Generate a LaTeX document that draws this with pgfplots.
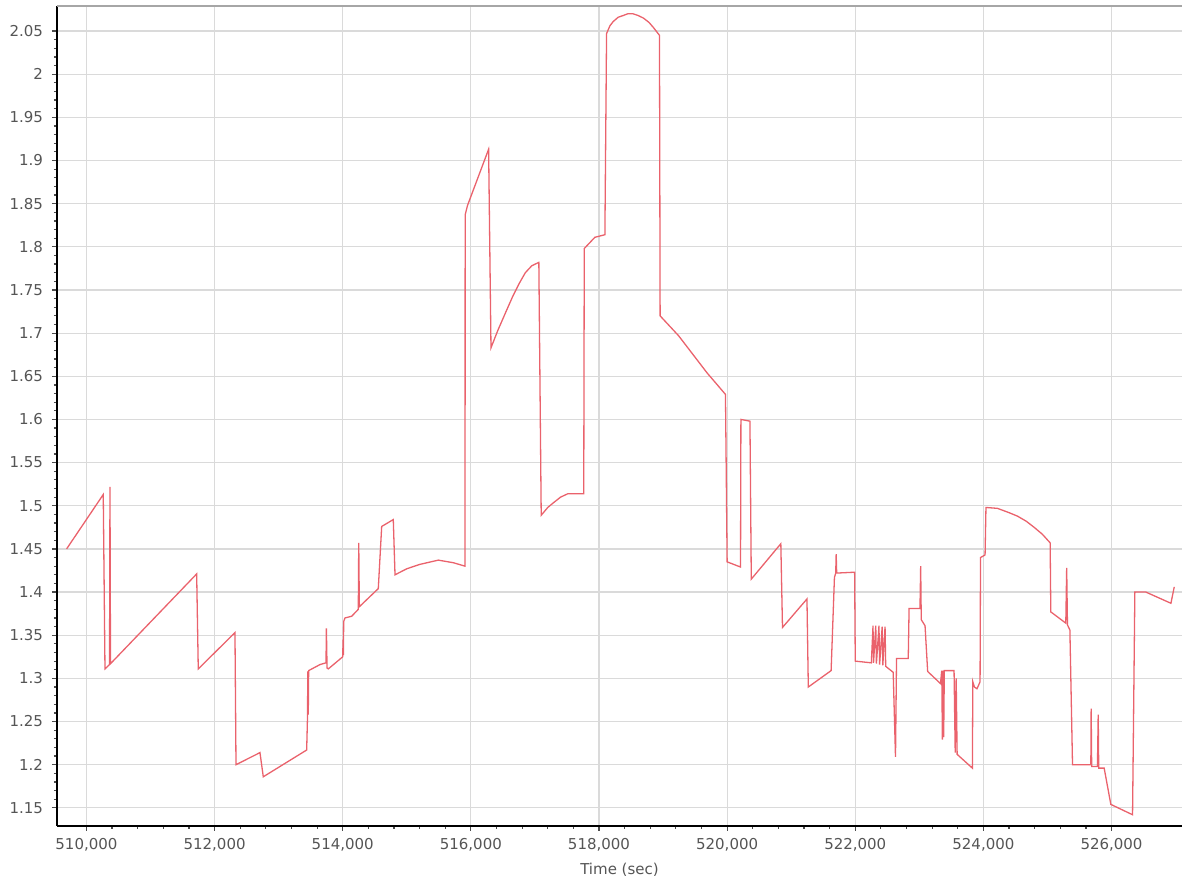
\documentclass[border=0pt]{standalone}
\usepackage{pgfplots}
\pgfplotsset{compat=1.18}
\usepackage{fontspec}
\setmainfont{DejaVu Sans}
\definecolor{linered}{RGB}{234,98,108}
\definecolor{gridgray}{RGB}{218,218,218}
\definecolor{labelgray}{RGB}{85,85,85}
\pgfplotstableread{
x y
509690 1.450
510262 1.513
510289 1.311
510360 1.316
510367 1.522
510375 1.317
511720 1.421
511745 1.311
512318 1.353
512334 1.200
512708 1.214
512760 1.186
513437 1.217
513450 1.255
513455 1.308
513462 1.258
513468 1.309
513645 1.316
513739 1.318
513745 1.358
513755 1.312
513775 1.311
514000 1.325
514005 1.345
514010 1.327
514015 1.366
514035 1.370
514140 1.372
514243 1.380
514250 1.457
514259 1.383
514555 1.404
514608 1.476
514789 1.484
514816 1.420
515000 1.427
515200 1.432
515492 1.437
515726 1.434
515909 1.430
515911 1.837
515948 1.848
516277 1.913
516314 1.683
516420 1.703
516549 1.725
516650 1.742
516758 1.758
516850 1.770
516950 1.778
517061 1.782
517098 1.489
517200 1.498
517281 1.503
517400 1.510
517516 1.514
517762 1.514
517770 1.798
517935 1.811
518092 1.814
518118 2.047
518170 2.056
518222 2.061
518300 2.066
518379 2.068
518450 2.070
518530 2.070
518610 2.068
518693 2.065
518780 2.060
518850 2.054
518944 2.045
518954 1.720
519242 1.697
519686 1.654
519974 1.629
520000 1.435
520209 1.429
520215 1.600
520356 1.598
520377 1.415
520838 1.456
520864 1.359
521246 1.392
521267 1.290
521623 1.309
521675 1.417
521695 1.422
521702 1.444
521710 1.422
521990 1.423
522000 1.320
522251 1.318
522277 1.361
522285 1.318
522320 1.361
522330 1.317
522370 1.361
522380 1.316
522420 1.360
522430 1.315
522465 1.360
522475 1.314
522592 1.307
522628 1.209
522644 1.323
522827 1.323
522840 1.381
523010 1.381
523021 1.430
523030 1.368
523089 1.361
523130 1.308
523330 1.294
523350 1.309
523360 1.229
523370 1.309
523380 1.232
523390 1.309
523542 1.309
523560 1.214
523575 1.300
523590 1.212
523828 1.196
523835 1.296
523860 1.290
523900 1.288
523948 1.296
523955 1.440
524026 1.443
524040 1.498
524219 1.497
524400 1.492
524531 1.488
524670 1.482
524792 1.475
524920 1.467
525042 1.457
525052 1.377
525286 1.364
525300 1.428
525312 1.362
525350 1.356
525391 1.200
525677 1.200
525682 1.265
525690 1.198
525780 1.198
525792 1.258
525800 1.196
525885 1.196
525989 1.154
526328 1.142
526364 1.400
526536 1.400
526927 1.387
526979 1.406
}\datatable
\begin{document}
\begin{tikzpicture}
\begin{axis}[
  name=ax,
  scale only axis,
  width=562.5pt, height=410pt,
  xmin=509540, xmax=527100,
  ymin=1.129, ymax=2.079,
  axis x line*=bottom, axis y line*=left,
  axis line style={black, line width=1pt},
  xtick={510000,512000,514000,516000,518000,520000,522000,524000,526000},
  ytick={1.15,1.2,1.25,1.3,1.35,1.4,1.45,1.5,1.55,1.6,1.65,1.7,1.75,1.8,1.85,1.9,1.95,2,2.05},
  minor x tick num=4, minor y tick num=4,
  tick align=outside,
  major tick length=2.5pt, minor tick length=1.5pt,
  every tick/.style={black!70, line width=0.6pt},
  grid=major,
  major grid style={gridgray, line width=0.6pt},
  scaled x ticks=false, scaled y ticks=false,
  xticklabel style={/pgf/number format/.cd, fixed, 1000 sep={,}},
  /pgf/number format/assume math mode=true,
  tick label style={font=\fontsize{7.5pt}{9pt}\selectfont, text=labelgray},
  yticklabel style={xshift=-1pt},
  xlabel={Time (sec)},
  xlabel style={font=\fontsize{7.5pt}{9pt}\selectfont, text=labelgray, yshift=1pt},
  clip=true,
]
\addplot[linered, line width=0.65pt] table[x=x, y=y] {\datatable};
\draw[black!35, line width=1.5pt] (rel axis cs:0,1) -- (rel axis cs:1,1);
\end{axis}
\pgfresetboundingbox
\path (ax.south west) ++(-28.5pt,-28pt) coordinate (bl);
\path (ax.north east) ++(0pt,3pt) coordinate (tr);
\path (bl) rectangle (tr);
\end{tikzpicture}
\end{document}
